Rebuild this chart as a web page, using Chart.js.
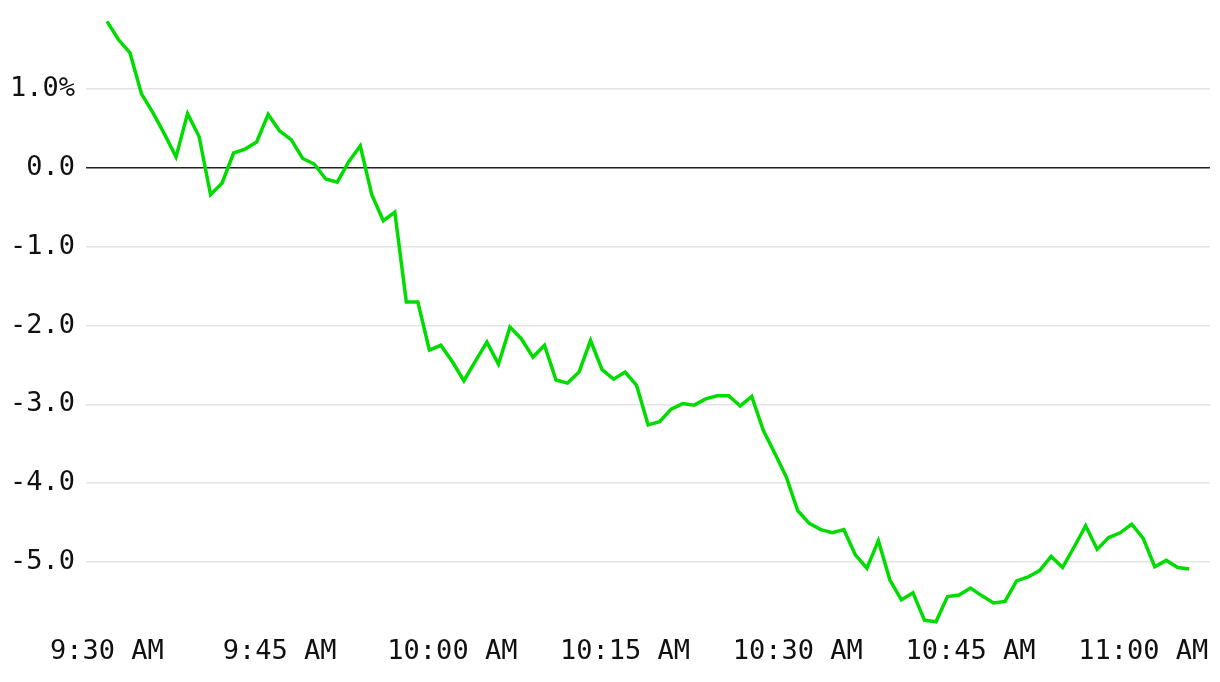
<!DOCTYPE html>
<html>
<head>
<meta charset="utf-8">
<script src="https://cdn.jsdelivr.net/npm/chart.js@4"></script>
<style>
  html, body { margin: 0; padding: 0; background: #fff; }
  #wrap { width: 1220px; height: 682px; }
</style>
</head>
<body>
<div id="wrap"><canvas id="chart" width="1220" height="682"></canvas></div>
<script>
// one value per minute, starting 9:30 AM (percent change)
const changes = [
    1.86, 1.63, 1.46, 0.94, 0.70, 0.43, 0.14, 0.69, 0.40, -0.34,
    -0.19, 0.19, 0.24, 0.33, 0.68, 0.47, 0.36, 0.12, 0.05, -0.14,
    -0.18, 0.08, 0.28, -0.34, -0.67, -0.56, -1.70, -1.70, -2.31, -2.25,
    -2.46, -2.70, -2.45, -2.21, -2.49, -2.02, -2.17, -2.40, -2.25, -2.69,
    -2.73, -2.59, -2.19, -2.56, -2.68, -2.59, -2.76, -3.26, -3.22, -3.06,
    -2.99, -3.01, -2.93, -2.89, -2.89, -3.02, -2.90, -3.33, -3.62, -3.92,
    -4.35, -4.51, -4.59, -4.63, -4.59, -4.91, -5.08, -4.73, -5.23, -5.48,
    -5.39, -5.74, -5.76, -5.44, -5.42, -5.33, -5.43, -5.52, -5.50, -5.24,
    -5.19, -5.11, -4.93, -5.07, -4.81, -4.54, -4.84, -4.69, -4.63, -4.52,
    -4.70, -5.06, -4.98, -5.07, -5.09
];

const tickMinutes = [0, 15, 30, 45, 60, 75, 90];
const tickLabels = ['9:30 AM', '9:45 AM', '10:00 AM', '10:15 AM', '10:30 AM', '10:45 AM', '11:00 AM'];

const yTicks = [-5, -4, -3, -2, -1, 0, 1];

const font = { family: "'DejaVu Sans Mono', monospace", size: 27 };

const ctx = document.getElementById('chart').getContext('2d');
new Chart(ctx, {
    type: 'line',
    data: {
        datasets: [{
            data: changes.map((v, i) => ({ x: i, y: v })),
            borderColor: '#00dc00',
            borderWidth: 3.5,
            pointRadius: 0,
            tension: 0,
            fill: false
        }]
    },
    options: {
        responsive: false,
        animation: false,
        layout: { padding: { top: 14, right: 10, left: 0, bottom: 0 } },
        plugins: {
            legend: { display: false },
            tooltip: { enabled: false }
        },
        scales: {
            x: {
                type: 'linear',
                min: -1.82,
                max: 95.8,
                grid: { display: false },
                border: { display: false },
                afterBuildTicks: scale => {
                    scale.ticks = tickMinutes.map(v => ({ value: v }));
                },
                afterFit: scale => {
                    scale.height = 57;
                    scale.paddingLeft = 0;
                    scale.paddingRight = 0;
                },
                ticks: {
                    color: '#111',
                    font: font,
                    padding: 3,
                    maxRotation: 0,
                    autoSkip: false,
                    callback: value => tickLabels[tickMinutes.indexOf(value)]
                }
            },
            y: {
                min: -5.8,
                max: 1.954,
                border: { display: false },
                grid: {
                    drawTicks: false,
                    lineWidth: 1.5,
                    color: ctx => ctx.tick && ctx.tick.value === 0 ? '#222' : '#e4e4e4'
                },
                afterBuildTicks: scale => {
                    scale.ticks = yTicks.map(v => ({ value: v }));
                },
                afterFit: scale => {
                    scale.width = 86;
                    scale.paddingTop = 0;
                    scale.paddingBottom = 0;
                },
                ticks: {
                    color: '#111',
                    font: font,
                    padding: 11,
                    callback: value => value === 1 ? '1.0%' : value.toFixed(1)
                }
            }
        }
    }
});
</script>
</body>
</html>
